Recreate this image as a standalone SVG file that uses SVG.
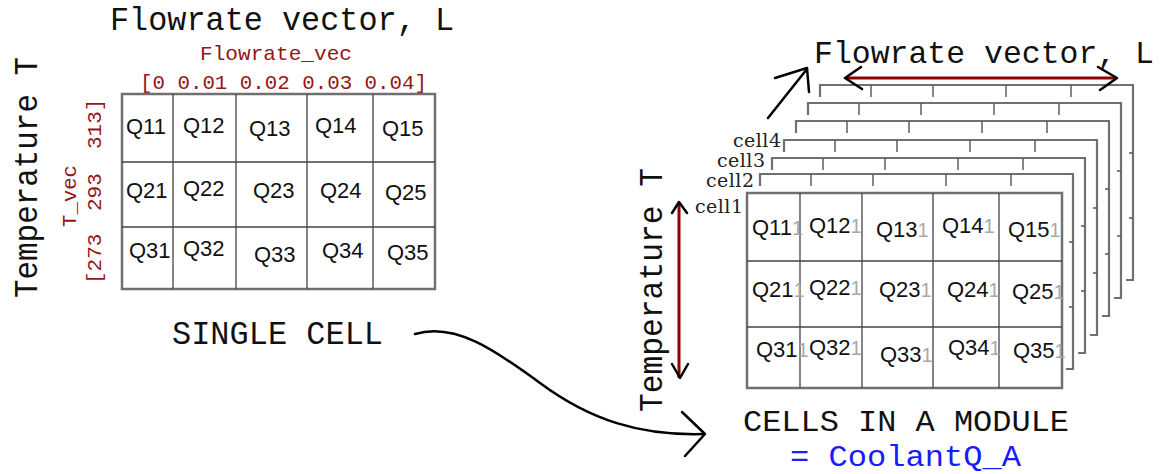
<svg xmlns="http://www.w3.org/2000/svg" width="1165" height="474" viewBox="0 0 1165 474">
<style>
.mono{font-family:"Liberation Mono","DejaVu Sans Mono",monospace}
.big{font-size:34px;fill:#111}
.mid{font-size:30px;fill:#111}
.red{font-size:21px;fill:#961616}
.blue{fill:#1a1aff}
.q{font-family:"Liberation Sans",Arial,sans-serif;font-size:22px;fill:#111}
.ghost{fill:#a8a8a8;font-size:20px}
.outer{fill:#fff;stroke:#707070;stroke-width:2.5}
.inner{fill:none;stroke:#444;stroke-width:1.3}
.layer{fill:none;stroke:#707070;stroke-width:2.2}
.stub{fill:none;stroke:#555;stroke-width:1.4}
.cell{font-family:"DejaVu Serif","Liberation Serif",serif;font-size:19px;fill:#222}
.blk{fill:none;stroke:#000;stroke-width:2.5;stroke-linecap:round;stroke-linejoin:round}
.redline{fill:none;stroke:#8e0000;stroke-width:3}
</style>
<rect width="1165" height="474" fill="#fff"/>

<g id="single-cell">
  <text class="mono big" x="110" y="30" textLength="344" lengthAdjust="spacingAndGlyphs">Flowrate vector, L</text>
  <text class="mono red" x="200" y="60" textLength="152" lengthAdjust="spacingAndGlyphs">Flowrate_vec</text>
  <text class="mono red" x="140" y="89" textLength="287" lengthAdjust="spacingAndGlyphs">[0 0.01 0.02 0.03 0.04]</text>
  <text class="mono big" transform="translate(37,298) rotate(-90)" textLength="241" lengthAdjust="spacingAndGlyphs">Temperature T</text>
  <text class="mono red" transform="translate(76,227) rotate(-90)" textLength="62" lengthAdjust="spacingAndGlyphs">T_vec</text>
  <text class="mono red" transform="translate(101,284) rotate(-90)">[273</text>
  <text class="mono red" transform="translate(101,211) rotate(-90)">293</text>
  <text class="mono red" transform="translate(101,149) rotate(-90)">313]</text>
  <rect class="outer" x="122" y="94" width="313" height="195"/>
  <path class="inner" d="M173 94V289M236 94V289M307 94V289M373 94V289M122 162H435M122 227H435"/>
  <g class="q">
    <text x="126" y="134">Q11</text><text x="183" y="133">Q12</text><text x="249" y="136">Q13</text><text x="315" y="133">Q14</text><text x="382" y="136">Q15</text>
    <text x="126" y="198">Q21</text><text x="183" y="196">Q22</text><text x="253" y="198">Q23</text><text x="320" y="198">Q24</text><text x="385" y="200">Q25</text>
    <text x="129" y="258">Q31</text><text x="183" y="256">Q32</text><text x="254" y="262">Q33</text><text x="322" y="258">Q34</text><text x="387" y="260">Q35</text>
  </g>
  <text class="mono big" x="172" y="344" textLength="211" lengthAdjust="spacingAndGlyphs">SINGLE CELL</text>
</g>

<g id="layer7">
  <rect x="820" y="85" width="313" height="195" fill="#fff"/>
  <path class="layer" d="M820 97V85H1133V280H1126"/>
  <path class="stub" d="M871 85v12M933 85v12M1006 85v12M1071 85v12M1133 153h-4M1133 218h-4"/>
</g>
<g id="layer6">
  <rect x="808" y="103" width="313" height="195" fill="#fff"/>
  <path class="layer" d="M808 115V103H1121V298H1114"/>
  <path class="stub" d="M859 103v12M921 103v12M994 103v12M1059 103v12M1121 171h-4M1121 236h-4"/>
</g>
<g id="layer5">
  <rect x="796" y="121" width="313" height="195" fill="#fff"/>
  <path class="layer" d="M796 133V121H1109V316H1102"/>
  <path class="stub" d="M847 121v12M909 121v12M982 121v12M1047 121v12M1109 189h-4M1109 254h-4"/>
</g>
<g id="cell4">
  <rect x="784" y="140" width="313" height="195" fill="#fff"/>
  <path class="layer" d="M784 152V140H1097V335H1090"/>
  <path class="stub" d="M835 140v12M897 140v12M970 140v12M1035 140v12M1097 208h-4M1097 273h-4"/>
  <text class="cell" x="781" y="147" text-anchor="end" textLength="48">cell4</text>
</g>
<g id="cell3">
  <rect x="772" y="158" width="313" height="195" fill="#fff"/>
  <path class="layer" d="M772 170V158H1085V353H1078"/>
  <path class="stub" d="M823 158v12M885 158v12M958 158v12M1023 158v12M1085 226h-4M1085 291h-4"/>
  <text class="cell" x="765" y="167" text-anchor="end" textLength="48">cell3</text>
</g>
<g id="cell2">
  <rect x="760" y="174" width="313" height="195" fill="#fff"/>
  <path class="layer" d="M760 186V174H1073V369H1066"/>
  <path class="stub" d="M811 174v12M873 174v12M946 174v12M1011 174v12M1073 242h-4M1073 307h-4"/>
  <text class="cell" x="754" y="187" text-anchor="end" textLength="48">cell2</text>
</g>
<g id="cell1">
  <rect class="outer" x="747" y="193" width="315" height="195"/>
  <path class="inner" d="M800 193V388M862 193V388M933 193V388M999 193V388M747 261H1062M747 327H1062"/>
  <text class="cell" x="743" y="213" text-anchor="end" textLength="48">cell1</text>
  <g class="q">
    <text x="752" y="235">Q11<tspan class="ghost">1</tspan></text>
    <text x="809" y="233">Q12<tspan class="ghost">1</tspan></text>
    <text x="876" y="237">Q13<tspan class="ghost">1</tspan></text>
    <text x="942" y="233">Q14<tspan class="ghost">1</tspan></text>
    <text x="1008" y="237">Q15<tspan class="ghost">1</tspan></text>
    <text x="752" y="297">Q21<tspan class="ghost">1</tspan></text>
    <text x="809" y="295">Q22<tspan class="ghost">1</tspan></text>
    <text x="879" y="297">Q23<tspan class="ghost">1</tspan></text>
    <text x="947" y="297">Q24<tspan class="ghost">1</tspan></text>
    <text x="1012" y="299">Q25<tspan class="ghost">1</tspan></text>
    <text x="756" y="357">Q31<tspan class="ghost">1</tspan></text>
    <text x="809" y="355">Q32<tspan class="ghost">1</tspan></text>
    <text x="880" y="362">Q33<tspan class="ghost">1</tspan></text>
    <text x="948" y="355">Q34<tspan class="ghost">1</tspan></text>
    <text x="1013" y="358">Q35<tspan class="ghost">1</tspan></text>
  </g>
</g>

<g id="module-labels">
  <text class="mono" x="814" y="63" font-size="32" fill="#111" textLength="340" lengthAdjust="spacingAndGlyphs">Flowrate vector, L</text>
  <text class="mono big" transform="translate(662,412) rotate(-90)" textLength="244" lengthAdjust="spacingAndGlyphs">Temperature T</text>
  <text class="mono mid" x="743" y="431" textLength="326" lengthAdjust="spacingAndGlyphs">CELLS IN A MODULE</text>
  <text class="mono mid blue" x="790" y="466" textLength="231" lengthAdjust="spacingAndGlyphs">= CoolantQ_A</text>
</g>

<g id="connectors">
  <path class="blk" d="M415 334C455 322 495 350 540 383C590 420 640 436 704 434"/>
  <path class="blk" d="M682 412L705 434L685 456"/>
  <path class="blk" d="M768 118L807 69"/>
  <path class="blk" d="M775 78L807 68L809 92"/>
  <path class="redline" d="M846 78H1116"/>
  <path class="blk" d="M861 67L845 78L862 89M1098 67L1117 78L1100 90"/>
  <path class="redline" d="M679 203V378"/>
  <path class="blk" d="M672 213L679 202L687 213M672 364L680 378L688 364"/>
</g>
</svg>
